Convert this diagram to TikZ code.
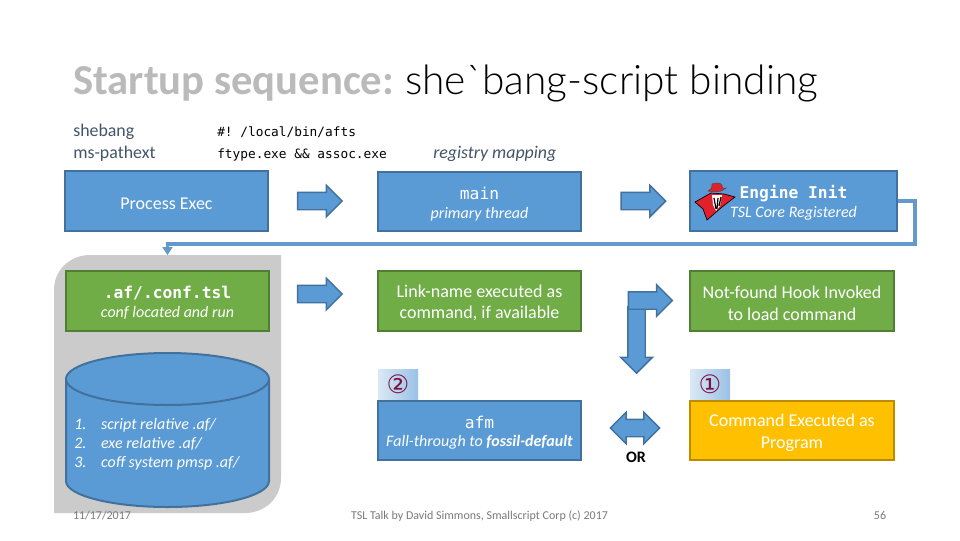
\documentclass[tikz,border=0pt]{standalone}
\usepackage{fontspec}
\setmainfont{Carlito}
\setmonofont{DejaVu Sans Mono}
\newfontfamily\symfont{DejaVu Sans}
\newfontfamily\lightfont{Lato Light}
\usepackage{tikz}
\usetikzlibrary{arrows.meta, shapes, shapes.arrows}
\usepackage{xcolor}
\definecolor{boxblue}{RGB}{91,155,213}
\definecolor{edgeblue}{RGB}{65,113,156}
\definecolor{boxgreen}{RGB}{112,173,71}
\definecolor{edgegreen}{RGB}{80,126,50}
\definecolor{boxgold}{RGB}{255,192,0}
\definecolor{edgegold}{RGB}{188,140,0}
\definecolor{slate}{RGB}{68,84,106}
\definecolor{panelgrey}{RGB}{203,203,203}
\definecolor{linkblue}{RGB}{101,152,203}
\definecolor{badgered}{RGB}{128,16,64}
\definecolor{spyred}{RGB}{226,32,44}
\tikzset{
  flowbox/.style={rectangle, line width=1.5pt, text=white, align=center, inner sep=0pt, font=\fontsize{13.5}{16.2}\selectfont},
  bluebox/.style={flowbox, fill=boxblue, draw=edgeblue},
  greenbox/.style={flowbox, fill=boxgreen, draw=edgegreen},
  goldbox/.style={flowbox, fill=boxgold, draw=edgegold},
  blockarrow/.style={single arrow, fill=boxblue, draw=edgeblue, line width=1.1pt, inner xsep=0pt, inner ysep=6pt,
    single arrow head extend=5.25pt, single arrow tip angle=90, single arrow head indent=0pt, minimum width=22.5pt, minimum height=33.5pt},
  badge/.style={rectangle, inner sep=0pt, minimum width=30pt, minimum height=22.5pt, left color=boxblue!22, right color=boxblue!62,
    text=badgered, font=\symfont\fontsize{19}{20}\selectfont},
  plain/.style={inner sep=0pt, anchor=base west},
  note/.style={plain, text=slate, font=\fontsize{13.4}{15}\selectfont},
  codeline/.style={plain, font=\ttfamily\fontsize{9.6}{12}\selectfont},
  footer/.style={inner sep=0pt, anchor=base, text=black!52, font=\fontsize{9}{10}\selectfont},
}
\newcommand{\firstline}{\rule{0pt}{12.5pt}}
\newcommand{\monoline}[1]{{\ttfamily\fontsize{12.2}{15}\selectfont\firstline #1}}
\newcommand{\subline}[1]{{\fontsize{12}{14}\selectfont\itshape #1}}
\begin{document}
\begin{tikzpicture}[x=0.75pt, y=-0.75pt]
  \useasboundingbox (0,0) rectangle (960,540);
  \fill[white] (0,0) rectangle (960,540);
  % heading and top notes
  \node[plain, text=black!27, font=\fontsize{32}{36}\selectfont\bfseries] (title) at (73,94) {Startup sequence:};
  \node[plain, font=\lightfont\fontsize{30.5}{36}\selectfont] (titlerest) at (405,94) {she`bang-script binding};
  \node[note] (shebang) at (73,136) {shebang};
  \node[note] (pathext) at (73,158) {ms-pathext};
  \node[codeline] (hashbang) at (217,136) {\#! /local/bin/afts};
  \node[codeline] (ftype) at (217,158) {ftype.exe \&\& assoc.exe};
  \node[note, font=\fontsize{13.4}{15}\selectfont\itshape] (registry) at (433,158) {registry mapping};
  % grey panel behind the conf box and the drum
  \fill[panelgrey] (54,513) -- (54,290) .. controls (54,270) and (70,255) .. (90,255) -- (281,255) -- (281,478) .. controls (281,498) and (265,513) .. (245,513) -- cycle;
  \coordinate (paneltop) at (167.5,255);
  % first row
  \node[bluebox, minimum width=152pt, minimum height=45pt] (exec) at (166.5,201) {\firstline Process Exec};
  \node[bluebox, minimum width=152pt, minimum height=44.5pt] (main) at (479.5,201.5) {\monoline{main}\\[-2pt]\subline{primary thread}};
  \node[bluebox, minimum width=155pt, minimum height=45pt] (engine) at (793.5,201) {\monoline{\bfseries Engine Init}\\[-2pt]\subline{TSL Core Registered}};
  % second row
  \node[greenbox, minimum width=152pt, minimum height=45pt] (conf) at (167.5,301) {\monoline{\bfseries .af/.conf.tsl}\\[-2pt]\subline{conf located and run}};
  \node[greenbox, minimum width=152pt, minimum height=45pt] (linkname) at (479.5,301) {\firstline Link-name executed as\\command, if available};
  \node[greenbox, minimum width=153pt, minimum height=45pt] (notfound) at (792,301) {\firstline Not-found Hook Invoked\\to load command};
  % third row
  \node[bluebox, minimum width=152pt, minimum height=44.5pt] (afm) at (479.5,430.5) {\monoline{afm}\\[-2pt]\subline{Fall-through to \textbf{fossil-default}}};
  \node[goldbox, minimum width=153pt, minimum height=44.5pt] (command) at (792,430.5) {\firstline Command Executed as\\Program};
  \node[badge] (second) at (398,384) {②};
  \node[badge] (first) at (710,384) {①};
  % drum
  \draw[fill=boxblue, draw=edgeblue, line width=1.5pt] (66,379) -- (66,481) arc[start angle=180, end angle=0, x radius=101.5, y radius=26] -- (269,379);
  \draw[fill=boxblue, draw=edgeblue, line width=1.5pt] (167.5,379) ellipse [x radius=101.5, y radius=26];
  \node[inner sep=0pt, anchor=west, text=white, align=left, font=\fontsize{12}{14.25}\selectfont\itshape] (search) at (74,445) {%
    \begin{tabular}{@{}l@{\hspace{11pt}}l@{}}
      1. & script relative .af/\\
      2. & exe relative .af/\\
      3. & coff system pmsp .af/
    \end{tabular}};
  % block arrows
  \node[blockarrow] (arrowa) at (315.5,201) {};
  \node[blockarrow] (arrowb) at (639,201) {};
  \node[blockarrow] (arrowc) at (315.5,294) {};
  \node[blockarrow, minimum height=50pt, rotate=-90, minimum width=23pt] (arrowdown) at (636.5,335.5) {};
  \node[blockarrow, minimum height=33pt] (arrowup) at (646,300.5) {};
  \node[double arrow, fill=boxblue, draw=edgeblue, line width=1.1pt, inner xsep=0pt, inner ysep=6pt, double arrow head extend=5.25pt, double arrow tip angle=90, double arrow head indent=0pt, minimum width=22.5pt, minimum height=37pt] (either) at (635,428) {};
  \node[inner sep=0pt, font=\fontsize{12}{14}\selectfont\bfseries] (orlabel) at (636,457) {OR};
  % engine back to the panel
  \coordinate (bend) at (915,244);
  \draw[linkblue, line width=2.7pt, -{Triangle[length=6pt,width=7.5pt]}] (engine.east) -| (bend) -| (paneltop);
  % spy mark on the engine box
  \draw[black, line width=0.5pt, fill=spyred] (695,202) -- (711,193) -- (724,194) -- (735,197) -- (722,207) -- (707,220) -- (703,209) -- cycle;
  \fill[white] (712,195) -- (722,195) -- (720,206) -- (716,211) -- (713,205) -- cycle;
  \draw[black, line width=0.9pt] (714,198) -- (716,209) (718,198) -- (717,209) (721,197) -- (719,206);
  \draw[black!70, line width=0.4pt, fill=spyred] (708,191) .. controls (712,192) and (722,193) .. (726,188) .. controls (723,189) and (722,188) .. (722,185) .. controls (720,182) and (715,183) .. (712,184) .. controls (712,188) and (711,190) .. (708,191) -- cycle;
  % footer
  \node[footer] (date) at (102,519) {11/17/2017};
  \node[footer] (talk) at (479.5,519) {TSL Talk by David Simmons, Smallscript Corp (c) 2017};
  \node[footer] (page) at (880,519) {56};
\end{tikzpicture}
\end{document}
